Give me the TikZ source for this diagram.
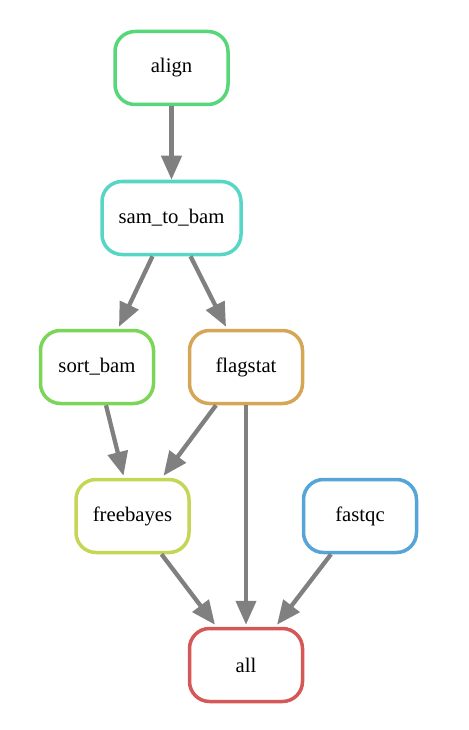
\documentclass[tikz,border=0pt]{standalone}
\usepackage{fontspec}
\setmainfont{Liberation Serif}
\usetikzlibrary{arrows.meta}
\definecolor{cAlign}{HTML}{57D67A}
\definecolor{cSam}{HTML}{57D6C5}
\definecolor{cSort}{HTML}{7BD657}
\definecolor{cFlag}{HTML}{D6A657}
\definecolor{cFree}{HTML}{C5D657}
\definecolor{cFast}{HTML}{57A4D6}
\definecolor{cAll}{HTML}{D65757}
\definecolor{cEdge}{HTML}{808080}
\tikzset{
  job/.style={draw, line width=3.5pt, rounded corners=20pt, fill=white,
    minimum width=113pt, minimum height=73pt, inner sep=0pt,
    font=\fontsize{20.7}{24}\selectfont},
  edge/.style={draw=cEdge, line width=4.3pt, -{Triangle[length=24pt,width=20pt]}}
}
\begin{document}
\begin{tikzpicture}[x=1pt,y=-1pt]
\useasboundingbox (0,0) rectangle (468,730);
\node[job, draw=cAlign] (align) at (171.5,68) {align};
\node[job, draw=cSam, minimum width=139pt] (sam) at (171.5,218) {sam\_to\_bam};
\node[job, draw=cSort] (sort) at (97,367) {sort\_bam};
\node[job, draw=cFlag] (flag) at (246,367) {flagstat};
\node[job, draw=cFree] (free) at (132.5,516) {freebayes};
\node[job, draw=cFast] (fast) at (360,516) {fastqc};
\node[job, draw=cAll] (all) at (246,665) {all};
\draw[edge] (align.south) -- (sam.north);
\draw[edge] ([xshift=-19pt]sam.south) -- ([xshift=22pt,yshift=2pt]sort.north);
\draw[edge] ([xshift=19pt]sam.south) -- ([xshift=-20pt,yshift=2pt]flag.north);
\draw[edge] ([xshift=9pt]sort.south) -- ([xshift=-9pt,yshift=2pt]free.north);
\draw[edge] ([xshift=-30pt]flag.south) -- ([xshift=31pt,yshift=2pt]free.north);
\draw[edge] (flag.south) -- ([yshift=2pt]all.north);
\draw[edge] ([xshift=29pt]free.south) -- ([xshift=-31pt,yshift=2pt]all.north);
\draw[edge] ([xshift=-29pt]fast.south) -- ([xshift=31pt,yshift=2pt]all.north);
\end{tikzpicture}
\end{document}
